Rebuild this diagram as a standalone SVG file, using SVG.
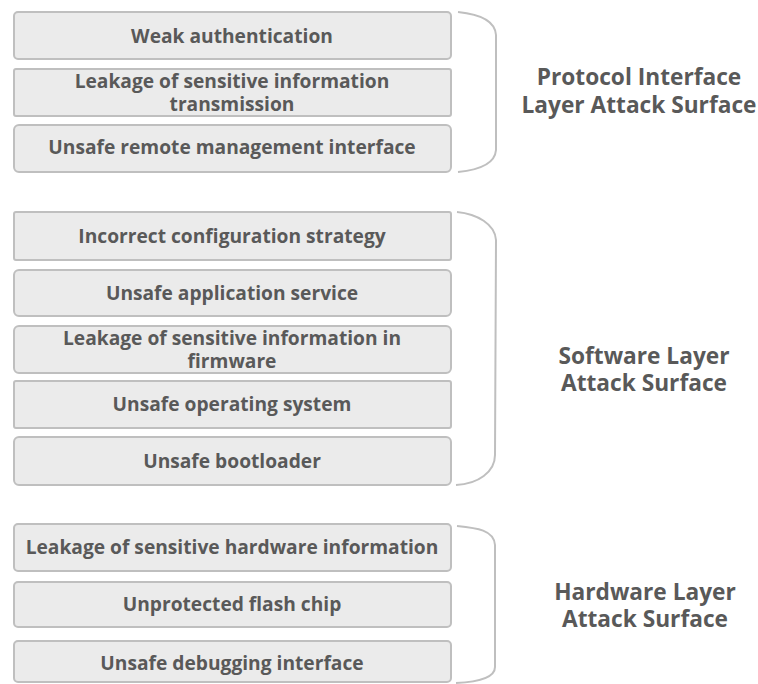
<svg xmlns="http://www.w3.org/2000/svg" width="758" height="684" viewBox="0 0 758 684">
<style>
.box{fill:#ebebeb;stroke:#bfbfbf;stroke-width:2}
.t{font-family:"Open Sans","Liberation Sans",sans-serif;font-weight:700;font-size:19.2px;fill:#595959;text-anchor:middle;dominant-baseline:central}
.lbl{font-family:"Open Sans","Liberation Sans",sans-serif;font-weight:700;font-size:22.7px;fill:#595959;text-anchor:middle;dominant-baseline:central}
.br{fill:none;stroke:#bfbfbf;stroke-width:2}
</style>
<rect width="758" height="684" fill="#ffffff"/>
<g id="n1"><rect class="box" x="14" y="12" width="437" height="47" rx="4"/><text class="t" x="232" y="35">Weak authentication</text></g>
<g id="n2"><rect class="box" x="14" y="69" width="437" height="47" rx="2"/><text class="t" x="232" y="80">Leakage of sensitive information</text><text class="t" x="232" y="103">transmission</text></g>
<g id="n3"><rect class="box" x="14" y="125" width="437" height="47" rx="5"/><text class="t" x="232" y="146">Unsafe remote management interface</text></g>
<g id="n4"><rect class="box" x="14" y="212" width="437" height="48" rx="2"/><text class="t" x="232" y="235">Incorrect configuration strategy</text></g>
<g id="n5"><rect class="box" x="14" y="270" width="437" height="46" rx="5"/><text class="t" x="232" y="292">Unsafe application service</text></g>
<g id="n6"><rect class="box" x="14" y="326" width="437" height="47" rx="5"/><text class="t" x="232" y="337">Leakage of sensitive information in</text><text class="t" x="232" y="360">firmware</text></g>
<g id="n7"><rect class="box" x="14" y="381" width="437" height="47" rx="2"/><text class="t" x="232" y="403">Unsafe operating system</text></g>
<g id="n8"><rect class="box" x="14" y="437" width="437" height="48" rx="5"/><text class="t" x="232" y="460">Unsafe bootloader</text></g>
<g id="n9"><rect class="box" x="14" y="524" width="437" height="47" rx="4"/><text class="t" x="232" y="546">Leakage of sensitive hardware information</text></g>
<g id="n10"><rect class="box" x="14" y="582" width="437" height="45" rx="4"/><text class="t" x="232" y="603">Unprotected flash chip</text></g>
<g id="n11"><rect class="box" x="14" y="641" width="437" height="41" rx="4"/><text class="t" x="232" y="662">Unsafe debugging interface</text></g>
<g id="brackets">
<path class="br" d="M458,12 C478,14 495,20 496,35 L496,150 C495,164 478,170 458,172"/>
<path class="br" d="M457,212 C477,214 495,224 496,240 L495,455 C495,472 478,484 456,485"/>
<path class="br" d="M457,526 C477,528 494,530 495,545 L495,667 C495,678 478,682 456,683"/>
</g>
<g id="labels">
<text class="lbl" x="639" y="76">Protocol Interface</text>
<text class="lbl" x="639" y="104">Layer Attack Surface</text>
<text class="lbl" x="644" y="355">Software Layer</text>
<text class="lbl" x="644" y="382">Attack Surface</text>
<text class="lbl" x="645" y="591">Hardware Layer</text>
<text class="lbl" x="645" y="618">Attack Surface</text>
</g>
</svg>
